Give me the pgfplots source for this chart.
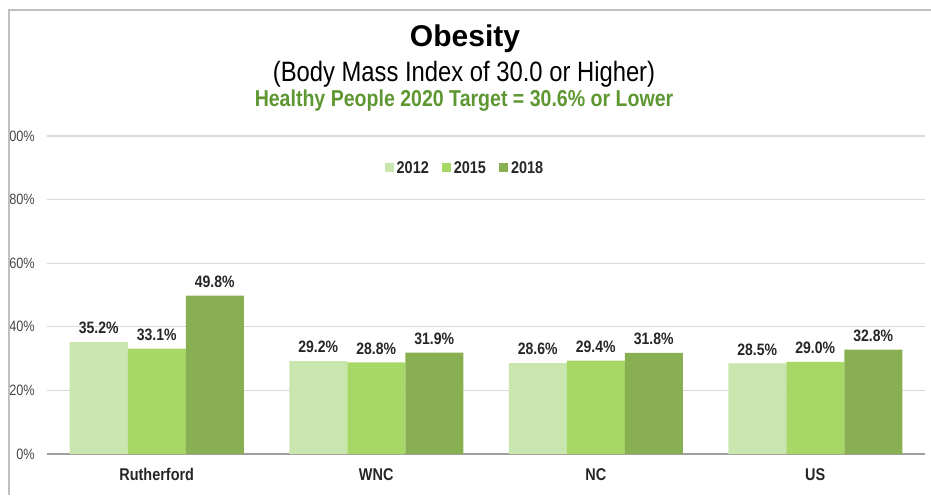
\documentclass[border=0pt]{standalone}
\usepackage{pgfplots}
\pgfplotsset{compat=1.18}
\usepackage{fontspec}
\setmainfont{Liberation Sans}
\newfontfamily\narrow[FakeStretch=0.85]{Liberation Sans}
\definecolor{cA}{HTML}{C9E6AE}
\definecolor{cB}{HTML}{A7D767}
\definecolor{cC}{HTML}{88B052}
\definecolor{tgreen}{HTML}{5E9732}
\definecolor{gridc}{HTML}{D9D9D9}
\definecolor{framec}{HTML}{BFBFBF}
\definecolor{txt}{HTML}{262626}
\begin{document}
\begin{tikzpicture}[x=1pt,y=1pt]
\useasboundingbox (0,0) rectangle (931,495);
\node[font=\bfseries\fontsize{30}{32}\selectfont, anchor=center] at (465,456) {Obesity};
\node[font=\narrow\fontsize{28}{30}\selectfont, anchor=center] at (464,421) {(Body Mass Index of 30.0 or Higher)};
\node[font=\narrow\bfseries\fontsize{23}{25}\selectfont, text=tgreen, anchor=center] at (464,394) {Healthy People 2020 Target = 30.6\% or Lower};
\begin{axis}[
  at={(47pt,41pt)}, anchor=south west,
  scale only axis, width=878pt, height=318pt,
  ybar=0pt, bar width=58pt,
  xmin=-0.5, xmax=3.5, ymin=0, ymax=100,
  xtick={0,1,2,3},
  xticklabels={Rutherford,WNC,NC,US},
  xticklabel style={font=\narrow\bfseries\fontsize{17}{19}\selectfont, text=txt, inner sep=0pt, anchor=north, yshift=-14pt},
  ytick={0,20,40,60,80,100},
  yticklabel={\pgfmathprintnumber{\tick}\%},
  yticklabel style={font=\narrow\fontsize{15}{17}\selectfont, text=txt!85, inner sep=0pt, anchor=east, xshift=-12pt},
  /pgf/number format/assume math mode=true,
  ymajorgrids, grid style={gridc, line width=1.2pt},
  axis x line*=bottom, axis y line*=left,
  y axis line style={draw=none},
  x axis line style={draw=gray!75, line width=1.6pt},
  major tick length=0pt,
  legend style={at={(0.476,0.934)}, anchor=north, draw=none, fill=none,
    legend columns=3, font=\narrow\bfseries\fontsize{17}{19}\selectfont, text=txt,
    /tikz/every even column/.append style={column sep=11pt},
    /tikz/every odd column/.append style={column sep=1pt}},
  legend image code/.code={\fill[#1] (0pt,-4pt) rectangle (9pt,5pt);},
  nodes near coords={\pgfmathprintnumber[fixed,fixed zerofill,precision=1]{\pgfplotspointmeta}\%},
  nodes near coords style={font=\narrow\bfseries\fontsize{16.5}{18}\selectfont, text=txt, inner sep=0pt, anchor=south, yshift=8pt},
  enlarge x limits=false,
]
\addplot[fill=cA, draw=none] coordinates {(0,35.2) (1,29.2) (2,28.6) (3,28.5)};
\addplot[fill=cB, draw=none] coordinates {(0,33.1) (1,28.8) (2,29.4) (3,29.0)};
\addplot[fill=cC, draw=none] coordinates {(0,49.8) (1,31.9) (2,31.8) (3,32.8)};
\legend{2012,2015,2018}
\end{axis}
\fill[white] (-20,-5) rectangle (8,500);
\draw[framec,line width=2pt] (9,0) -- (9,485) -- (931,485);
\end{tikzpicture}
\end{document}
